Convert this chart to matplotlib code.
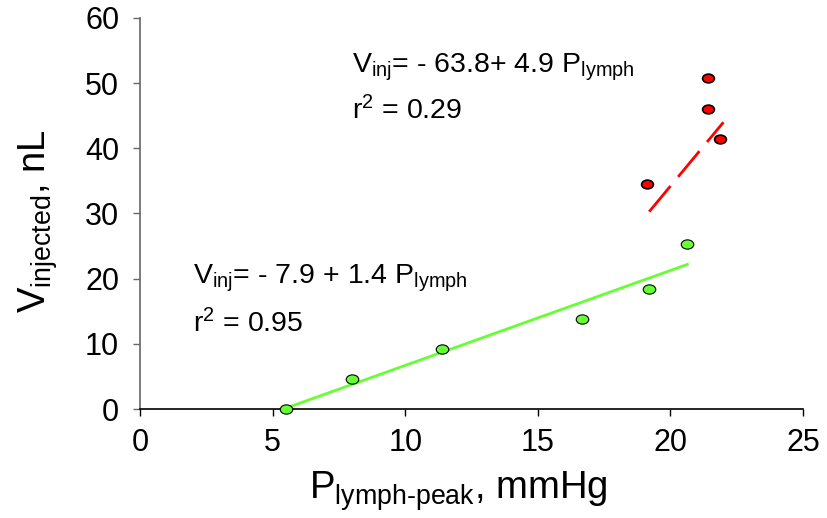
import matplotlib
matplotlib.use('Agg')
import matplotlib.pyplot as plt
import numpy as np
from matplotlib.path import Path

# lymph peak pressure (mmHg) vs injected volume (nL)
p_low = [5.5, 8.0, 11.4, 16.65, 19.2, 20.64]
v_low = [0.0, 4.6, 9.2, 13.8, 18.4, 25.3]

p_high = [19.1, 21.4, 21.4, 21.88]
v_high = [34.5, 50.8, 46.0, 41.4]

# regression reported for the high-pressure group
high_fit = (-63.8, 4.9)
high_range = (19.2, 22.0)

plt.rcParams['font.family'] = 'Liberation Sans'
plt.rcParams['mathtext.fontset'] = 'custom'
plt.rcParams['mathtext.rm'] = 'Liberation Sans'
plt.rcParams['mathtext.it'] = 'Liberation Sans'

# slightly flattened dots
circ = Path.unit_circle()
ellipse = Path(circ.vertices * [1.35, 1.0], circ.codes)

fig = plt.figure(figsize=(8.27, 5.18), dpi=100)
ax = fig.add_axes([0.1693, 0.2104, 0.8017, 0.7549])

slope, icpt = np.polyfit(p_low, v_low, 1)
xl = np.array([min(p_low), max(p_low)])
ax.plot(xl, icpt + slope * xl, color='#66ff33', lw=2, zorder=2)

xh = np.array(high_range)
ax.plot(xh, high_fit[0] + high_fit[1] * xh, color='#ff0000', lw=2,
        dashes=(12, 4.3), zorder=2)

ax.plot(p_low, v_low, ls='none', marker=ellipse, ms=9, mfc='#66ff33',
        mec='black', mew=0.8, zorder=3, clip_on=False)
ax.plot(p_high, v_high, ls='none', marker=ellipse, ms=8.5, mfc='#ff0000',
        mec='black', mew=1.2, zorder=3, clip_on=False)

fs = 20.5
ax.text(8.0, 51.7, r'V$_{\mathregular{inj}}$= - 63.8+ 4.9 P$_{\mathregular{lymph}}$',
        fontsize=fs)
ax.text(8.0, 44.4, r'r$^{\mathregular{2}}$ = 0.29', fontsize=fs)
ax.text(2.0, 19.3, r'V$_{\mathregular{inj}}$= - 7.9 + 1.4 P$_{\mathregular{lymph}}$',
        fontsize=fs)
ax.text(2.0, 11.8, r'r$^{\mathregular{2}}$ = 0.95', fontsize=fs)

ax.set_xlim(0, 25)
ax.set_ylim(0, 60)
ax.set_xticks(np.arange(0, 26, 5))
ax.set_yticks(np.arange(0, 61, 10))

for s in ['top', 'right']:
    ax.spines[s].set_visible(False)
ax.spines['left'].set_color('#666666')
ax.spines['left'].set_linewidth(1.2)
ax.spines['bottom'].set_color('black')
ax.spines['bottom'].set_linewidth(1.2)

ax.tick_params(axis='y', direction='out', length=5, width=1, color='#666666',
               labelsize=22, pad=10)
ax.tick_params(axis='x', direction='out', length=5, width=1, color='black',
               labelsize=22, pad=9)

ax.set_xlabel(r'P$_{\mathregular{lymph\text{-}peak}}$, mmHg', fontsize=27.5, labelpad=8)
ax.set_ylabel(r'V$_{\mathregular{injected}}$, nL', fontsize=27.5, labelpad=18)
ax.xaxis.label.set_x(0.48)
ax.yaxis.label.set_y(0.48)

fig.savefig('out.png', dpi=100)
